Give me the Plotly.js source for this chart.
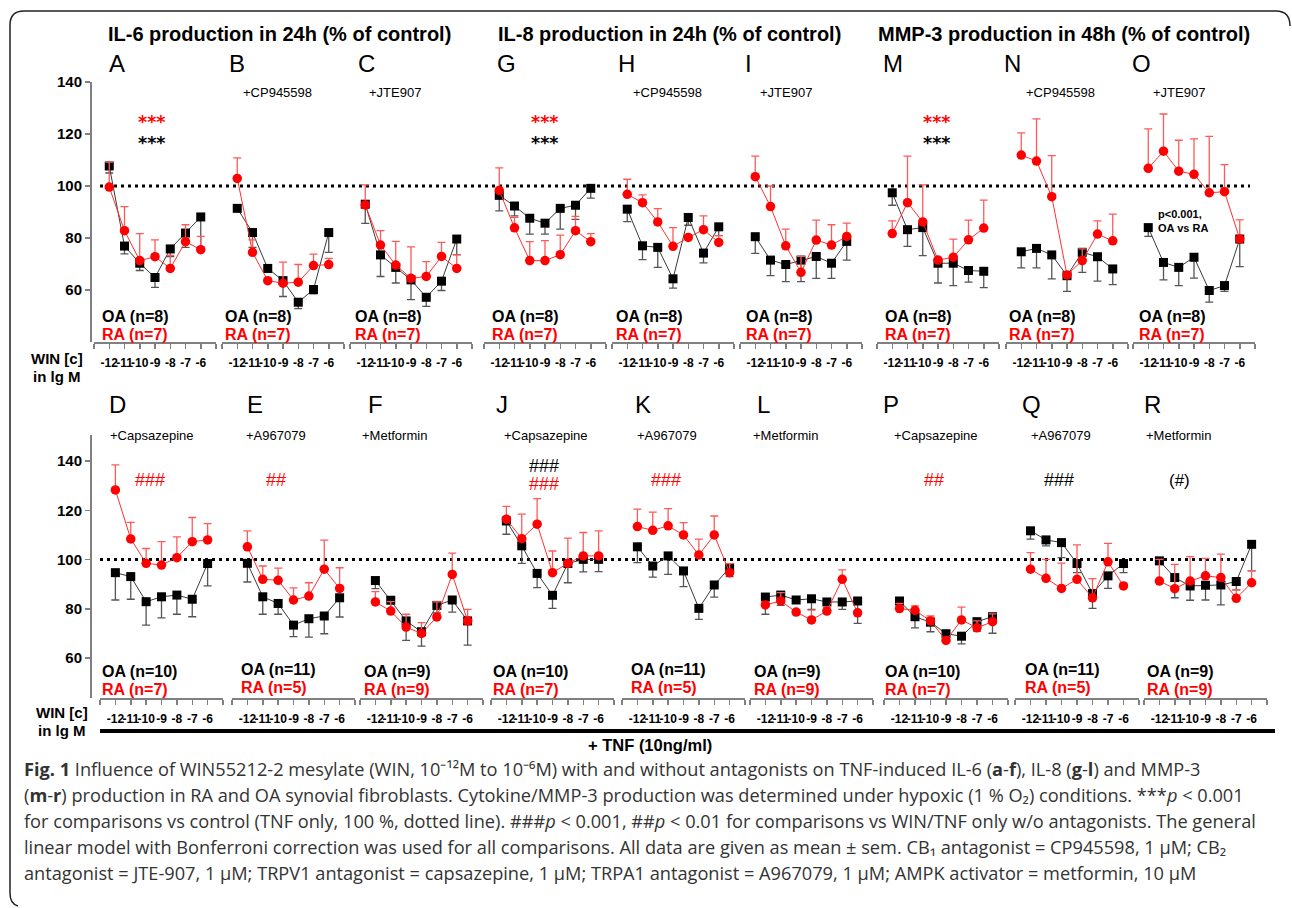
<!DOCTYPE html>
<html><head><meta charset="utf-8">
<script src="https://cdn.plot.ly/plotly-3.0.1.min.js"></script>
<style>html,body{margin:0;padding:0;background:#fff;} #chart{width:1292px;height:908px;}</style>
</head><body><div id="chart"></div>
<script>
// ---------- DATA ----------
const concentrations = [-12, -11, -10, -9, -8, -7, -6];
const tickValues = [-13, -12, -11, -10, -9, -8, -7, -6, -5];
const tickLabels = [' ', '-12', '-11', '-10', '-9', '-8', '-7', '-6', ' '];
const yTickValues = [60, 80, 100, 120, 140];

// IL-6 (A-F)
const oa_A = [107.7, 76.9, 70.3, 64.8, 75.8, 81.9, 88.1];
const oaErr_A = [2.7, 3, 2.8, 3.8, 3, 5.5, 12.6];
const ra_A = [99.6, 82.8, 71.3, 72.8, 68.3, 78.6, 75.5];
const raErr_A = [9.6, 9.3, 10.4, 6.5, 5, 6.5, 5.1];

const oa_B = [91.4, 82.1, 68.3, 63.6, 55.3, 60.2, 82.1];
const oaErr_B = [1, 5.7, 1.5, 6.1, 2.5, 1.7, 7.6];
const ra_B = [102.9, 74.5, 63.6, 62.6, 63, 69.4, 69.8];
const raErr_B = [7.9, 4.8, 0.5, 8.1, 6.8, 4.4, 2.4];

const oa_C = [93, 73.5, 68.7, 63.9, 57.2, 63.4, 79.6];
const oaErr_C = [7.4, 8.3, 6, 7.6, 3.5, 3.6, 6];
const ra_C = [92.7, 77.3, 69.6, 64.5, 65.2, 72.9, 68.3];
const raErr_C = [7.7, 5.5, 9.1, 12.1, 5.7, 5.4, 5.2];

const oa_D = [94.7, 93.1, 82.9, 84.9, 85.6, 83.9, 98.4];
const oaErr_D = [11.1, 9.2, 9.5, 8.6, 7.8, 7.1, 9.1];
const ra_D = [128.3, 108.4, 98.5, 97.8, 100.8, 107.3, 108];
const raErr_D = [10.2, 6.7, 6, 9.5, 8.4, 9.8, 6.6];

const oa_E = [98.5, 84.9, 82.2, 73.4, 76, 77.1, 84.5];
const oaErr_E = [7.6, 7.1, 4.4, 4.7, 7.5, 7.2, 7.8];
const ra_E = [105.2, 92, 91.6, 83.6, 85.2, 96.1, 88.3];
const raErr_E = [6.5, 5.4, 4.9, 4.9, 5.4, 11.8, 8.4];

const oa_F = [91.5, 83.5, 75.1, 70.7, 81.4, 83.6, 75.1];
const oaErr_F = [3.3, 3.7, 7.9, 5.8, 3, 4.9, 9.8];
const ra_F = [82.8, 79.1, 72.6, 70, 76.7, 94, 75.1];
const raErr_F = [4.2, 3.8, 5.2, 4.4, 6.1, 8.6, 4.7];

// IL-8 (G-L)
const oa_G = [96.4, 92.3, 87.6, 85.7, 91.4, 92.6, 99.1];
const oaErr_G = [6, 3.8, 6.1, 4.2, 8, 5.4, 3.8];
const ra_G = [98.3, 83.9, 71.3, 71.3, 73.6, 82.8, 78.6];
const raErr_G = [8.7, 4, 7.3, 7.7, 7.5, 5.5, 3.1];

const oa_H = [91.1, 77, 76.4, 64.3, 87.9, 74.2, 84.3];
const oaErr_H = [4.8, 5.3, 7.7, 3.6, 3, 3.8, 3.4];
const ra_H = [96.8, 93.6, 86.2, 76.8, 80.2, 83.2, 78.3];
const raErr_H = [5.8, 3, 5.1, 7.2, 1, 5.3, 2.6];

const oa_I = [80.5, 71.5, 69.8, 71.5, 72.9, 70.3, 78.7];
const oaErr_I = [6.4, 6, 6.6, 8.3, 8.4, 5.8, 7.2];
const ra_I = [103.6, 92.1, 77, 66.8, 79.2, 77.3, 80.6];
const raErr_I = [7.9, 7.9, 6.4, 6.1, 7.7, 7.8, 5.1];

const oa_J = [115.7, 105.6, 94.4, 85.5, 98.4, 100.1, 100.1];
const oaErr_J = [5.4, 7.1, 5.8, 5.3, 7.8, 5.1, 5];
const ra_J = [116.4, 108.5, 114.4, 94.7, 98.5, 101.5, 101.5];
const raErr_J = [5.2, 10, 10.4, 8.8, 10.2, 9.5, 10.2];

const oa_K = [105.2, 97.4, 101.5, 95.4, 80.2, 89.7, 96.7];
const oaErr_K = [6.4, 4.5, 7.5, 6.4, 4.5, 4.9, 3.6];
const ra_K = [113.4, 111.9, 113.7, 110, 101.9, 110, 94.7];
const raErr_K = [7.1, 7.4, 7, 5, 6.4, 7.7, 3.7];

const oa_L = [84.8, 85.6, 83.6, 84.1, 82.8, 82.8, 83.2];
const oaErr_L = [7, 4.2, 1.1, 4.3, 1.4, 3, 9.1];
const ra_L = [81.6, 83.2, 78.7, 75.5, 79.1, 92, 78.4];
const raErr_L = [1, 3.4, 1, 4, 1.4, 3.8, 1];

// MMP-3 (M-R)
const oa_M = [97.4, 83.2, 84, 70.3, 70.3, 67.5, 67.2];
const oaErr_M = [4.8, 6.4, 10.8, 7.6, 8.6, 4.5, 6.3];
const ra_M = [81.7, 93.6, 86.2, 71.5, 72.6, 79.3, 83.8];
const raErr_M = [4.9, 17.9, 14.2, 1, 7, 7.6, 10.8];

const oa_N = [74.7, 76, 73.5, 65.5, 74.5, 72.8, 68.1];
const oaErr_N = [6.2, 7.5, 9.2, 6, 7.7, 9.4, 6];
const ra_N = [111.9, 109.6, 95.9, 65.8, 71.3, 81.5, 78.9];
const raErr_N = [8.5, 16.2, 15.8, 1, 4.5, 5.1, 10.3];

const oa_O = [84, 70.6, 68.7, 72.6, 59.8, 61.7, 79.6];
const oaErr_O = [3.4, 6.7, 7, 8, 4.5, 2.2, 10.6];
const ra_O = [106.8, 113.4, 105.7, 104.5, 97.4, 97.8, 79.6];
const raErr_O = [15.2, 14.3, 11.9, 13.6, 21.7, 10.4, 7.4];

const oa_P = [83.2, 76.8, 74.6, 69.9, 68.9, 74.8, 76.8];
const oaErr_P = [2.5, 4.5, 3.9, 3, 3.1, 3.8, 6.7];
const ra_P = [80.1, 79.4, 75.1, 67.2, 75.5, 72.3, 74.8];
const raErr_P = [2.1, 1.8, 2, 1.1, 5.2, 2.8, 3.2];

const oa_Q = [111.7, 108, 106.9, 98.4, 86.2, 93.4, 98.4];
const oaErr_Q = [3.4, 2.4, 6.1, 3.7, 6, 5.1, 3.7];
const ra_Q = [96.1, 92.4, 88.3, 92, 84.5, 99.1, 89.3];
const raErr_Q = [6.7, 7.7, 10.3, 14, 7.8, 7.5, 1];

const oa_R = [99.5, 92.7, 89.3, 89.6, 89.7, 91.1, 106.2];
const oaErr_R = [1.4, 8.2, 5.8, 6, 8.1, 3.4, 10.8];
const ra_R = [91.3, 88.2, 91.3, 93.4, 92.7, 84.3, 90.6];
const raErr_R = [8.8, 9.9, 9.9, 7.1, 9.5, 3.4, 4.9];

const topPanels = ['A', 'B', 'C', 'G', 'H', 'I', 'M', 'N', 'O'];
const bottomPanels = ['D', 'E', 'F', 'J', 'K', 'L', 'P', 'Q', 'R'];
const oaNTop = [8, 8, 8, 8, 8, 8, 8, 8, 8];
const raNTop = [7, 7, 7, 7, 7, 7, 7, 7, 7];
const oaNBottom = [10, 11, 9, 10, 11, 9, 10, 11, 9];
const raNBottom = [7, 5, 9, 7, 5, 9, 7, 5, 9];
const groupTitles = ['IL-6 production in 24h (% of control)', 'IL-8 production in 24h (% of control)', 'MMP-3 production in 48h (% of control)'];
const antagonistsTop = ['', '+CP945598', '+JTE907', '', '+CP945598', '+JTE907', '', '+CP945598', '+JTE907'];
const antagonistsBottom = ['+Capsazepine', '+A967079', '+Metformin', '+Capsazepine', '+A967079', '+Metformin', '+Capsazepine', '+A967079', '+Metformin'];

const series = {
  A: [oa_A, oaErr_A, ra_A, raErr_A], B: [oa_B, oaErr_B, ra_B, raErr_B], C: [oa_C, oaErr_C, ra_C, raErr_C],
  D: [oa_D, oaErr_D, ra_D, raErr_D], E: [oa_E, oaErr_E, ra_E, raErr_E], F: [oa_F, oaErr_F, ra_F, raErr_F],
  G: [oa_G, oaErr_G, ra_G, raErr_G], H: [oa_H, oaErr_H, ra_H, raErr_H], I: [oa_I, oaErr_I, ra_I, raErr_I],
  J: [oa_J, oaErr_J, ra_J, raErr_J], K: [oa_K, oaErr_K, ra_K, raErr_K], L: [oa_L, oaErr_L, ra_L, raErr_L],
  M: [oa_M, oaErr_M, ra_M, raErr_M], N: [oa_N, oaErr_N, ra_N, raErr_N], O: [oa_O, oaErr_O, ra_O, raErr_O],
  P: [oa_P, oaErr_P, ra_P, raErr_P], Q: [oa_Q, oaErr_Q, ra_Q, raErr_Q], R: [oa_R, oaErr_R, ra_R, raErr_R]
};

// ---------- LAYOUT GEOMETRY (pixels) ----------
const W = 1292, H = 908;
const FONT = 'Liberation Sans, Arial, sans-serif';
const topDomains = [[94,216],[222,344],[350,472],[484,606],[612,734],[740,862],[877,999],[1006,1128],[1133,1255]];
const botDomains = [[100,223],[232,355],[360,483],[491,614],[622,745],[750,873],[884,1008],[1015,1139],[1144,1267]];
const topLetterX = [117, 237, 366, 506, 626, 748, 893, 1013, 1141];
const botLetterX = [117, 255, 376, 502, 643, 763, 891, 1031, 1152];
const topAntX = [0, 277, 395, 0, 667, 786, 0, 1060, 1179];
const botAntX = [151, 276, 395, 545, 667, 785, 935, 1061, 1178];
const topNX = [100, 223, 353, 490, 614, 744, 883, 1007, 1137];
const botNX = [100, 239, 362, 491, 629, 752, 883, 1023, 1145];
const botNY = [671, 669, 671, 671, 669, 671, 671, 669, 671];

const fx = x => x / W;
const fy = y => 1 - y / H;
const zeros = concentrations.map(() => 0);

const layout = {
  width: W, height: H, autosize: false,
  margin: {l: 0, r: 0, t: 0, b: 0},
  paper_bgcolor: '#fff', plot_bgcolor: 'rgba(0,0,0,0)',
  showlegend: false, hovermode: false,
  font: {family: FONT, color: '#000'},
  annotations: [], shapes: []
};

const yCommon = {
  anchor: 'free', position: fx(90), showline: true, linecolor: '#808080', linewidth: 1.5,
  ticks: 'outside', ticklen: 5, tickcolor: '#808080', tickwidth: 1.5,
  tickvals: yTickValues, showgrid: false, zeroline: false,
  tickfont: {family: FONT, size: 15, color: '#000', weight: 'bold'}
};
layout.yaxis = Object.assign({}, yCommon, {domain: [fy(342), fy(82)], range: [40, 140]});
layout.yaxis2 = Object.assign({}, yCommon, {domain: [fy(698), fy(435)], range: [43.8, 150.6]});

const traces = [];
function addPanel(letter, idx, dom, yref) {
  const ax = idx === 1 ? 'xaxis' : 'xaxis' + idx;
  layout[ax] = {
    domain: [fx(dom[0]), fx(dom[1])], range: [-13, -5], anchor: yref,
    showline: true, linecolor: '#808080', linewidth: 1.5,
    ticks: 'outside', ticklen: 5, tickcolor: '#808080', tickwidth: 1.5,
    tickmode: 'array', tickvals: tickValues, ticktext: tickLabels, tickangle: 0,
    ticklabelstandoff: 4,
    showgrid: false, zeroline: false,
    tickfont: {family: FONT, size: 12, color: '#000', weight: 'bold'}
  };
  const xr = idx === 1 ? 'x' : 'x' + idx;
  const [oa, oaErr, ra, raErr] = series[letter];
  traces.push({
    x: concentrations, y: oa, xaxis: xr, yaxis: yref, type: 'scatter', mode: 'lines+markers',
    line: {color: '#3a3a3a', width: 1},
    marker: {symbol: 'square', size: 9, color: '#000'},
    error_y: {type: 'data', symmetric: false, array: zeros, arrayminus: oaErr, color: '#555', thickness: 1.3, width: 4}
  });
  traces.push({
    x: concentrations, y: ra, xaxis: xr, yaxis: yref, type: 'scatter', mode: 'lines+markers',
    line: {color: '#ff3030', width: 1},
    marker: {symbol: 'circle', size: 9.5, color: '#ff0000'},
    error_y: {type: 'data', symmetric: false, array: raErr, arrayminus: zeros, color: '#ff5a5a', thickness: 1.3, width: 4}
  });
}
topPanels.forEach((p, i) => addPanel(p, i + 1, topDomains[i], 'y'));
bottomPanels.forEach((p, i) => addPanel(p, i + 10, botDomains[i], 'y2'));

function ann(text, x, y, size, opts) {
  opts = opts || {};
  layout.annotations.push({
    text: text, x: fx(x), y: fy(y), xref: 'paper', yref: 'paper', showarrow: false,
    xanchor: opts.xanchor || 'center', yanchor: 'middle', align: opts.align || 'center',
    font: {family: opts.family || FONT, size: size, color: opts.color || '#000', weight: opts.weight || 'normal'}
  });
}

// group titles
[279, 669, 1064].forEach((x, i) => ann(groupTitles[i], x, 34, 20, {weight: 'bold'}));
// letters
topPanels.forEach((p, i) => ann(p, topLetterX[i], 63, 24));
bottomPanels.forEach((p, i) => ann(p, botLetterX[i], 404, 24));
// antagonist labels
antagonistsTop.forEach((t, i) => { if (t) ann(t, topAntX[i], 92, 13); });
antagonistsBottom.forEach((t, i) => ann(t, botAntX[i], 436, 13));
// n labels
topPanels.forEach((p, i) => {
  ann('OA (n=' + oaNTop[i] + ')', topNX[i], 316, 16, {xanchor: 'left', weight: 'bold'});
  ann('RA (n=' + raNTop[i] + ')', topNX[i], 334, 16, {xanchor: 'left', weight: 'bold', color: '#ff0000'});
});
bottomPanels.forEach((p, i) => {
  ann('OA (n=' + oaNBottom[i] + ')', botNX[i], botNY[i], 16, {xanchor: 'left', weight: 'bold'});
  ann('RA (n=' + raNBottom[i] + ')', botNX[i], botNY[i] + 18, 16, {xanchor: 'left', weight: 'bold', color: '#ff0000'});
});
// significance marks
const STAR = 'DejaVu Sans, sans-serif';
[151, 544, 936].forEach(x => {
  ann('***', x, 122, 17.5, {weight: 'bold', color: '#ff0000', family: STAR});
  ann('***', x, 143, 17.5, {weight: 'bold', family: STAR});
});
ann('###', 150, 480, 18, {color: '#ff0000'});
ann('##', 276, 480, 18, {color: '#ff0000'});
ann('###', 544, 466, 18);
ann('###', 544, 484, 18, {color: '#ff0000'});
ann('###', 666, 480, 18, {color: '#ff0000'});
ann('##', 934, 480, 18, {color: '#ff0000'});
ann('###', 1059, 480, 18);
ann('(#)', 1179, 480, 17);
ann('p&lt;0.001,<br>OA vs RA', 1156, 221, 11, {xanchor: 'left', align: 'left', weight: 'bold'});
// WIN labels
ann('WIN [c]', 57, 358, 15, {weight: 'bold'});
ann('in lg M', 57, 376, 15, {weight: 'bold'});
ann('WIN [c]', 62, 712, 15, {weight: 'bold'});
ann('in lg M', 62, 730, 15, {weight: 'bold'});
ann('+ TNF (10ng/ml)', 650, 745, 16.5, {weight: 'bold'});

// caption
const captionLines = [
  '<b>Fig. 1</b> Influence of WIN55212-2 mesylate (WIN, 10⁻¹²M to 10⁻⁶M) with and without antagonists on TNF-induced IL-6 (<b>a</b>-<b>f</b>), IL-8 (<b>g</b>-<b>l</b>) and MMP-3',
  '(<b>m</b>-<b>r</b>) production in RA and OA synovial fibroblasts. Cytokine/MMP-3 production was determined under hypoxic (1 % O₂) conditions. ***<i>p</i> &lt; 0.001',
  'for comparisons vs control (TNF only, 100 %, dotted line). ###<i>p</i> &lt; 0.001, ##<i>p</i> &lt; 0.01 for comparisons vs WIN/TNF only w/o antagonists. The general',
  'linear model with Bonferroni correction was used for all comparisons. All data are given as mean ± sem. CB₁ antagonist = CP945598, 1 μM; CB₂',
  'antagonist = JTE-907, 1 μM; TRPV1 antagonist = capsazepine, 1 μM; TRPA1 antagonist = A967079, 1 μM; AMPK activator = metformin, 10 μM'
];
captionLines.forEach((t, i) => ann(t, 22, 769 + i * 26, 18.2, {xanchor: 'left', align: 'left', family: 'Open Sans, sans-serif', color: '#333'}));

// shapes
layout.shapes.push({type: 'line', xref: 'paper', yref: 'y', x0: fx(100), x1: fx(1250), y0: 100, y1: 100,
  line: {color: '#000', width: 3, dash: '3px,4px'}, layer: 'below'});
layout.shapes.push({type: 'line', xref: 'paper', yref: 'y2', x0: fx(100), x1: fx(1247), y0: 100, y1: 100,
  line: {color: '#000', width: 3, dash: '3px,4px'}, layer: 'below'});
layout.shapes.push({type: 'line', xref: 'paper', yref: 'paper', x0: fx(100), x1: fx(1275), y0: fy(731), y1: fy(731),
  line: {color: '#000', width: 4}});
const P = (x, y) => fx(x) + ',' + fy(y);
layout.shapes.push({type: 'path', xref: 'paper', yref: 'paper',
  path: 'M' + P(1290, 26) + ' Q' + P(1290, 11) + ' ' + P(1276, 11) + ' L' + P(24, 11) + ' Q' + P(10, 11) + ' ' + P(10, 25) +
        ' L' + P(10, 893) + ' Q' + P(10, 904) + ' ' + P(18, 906),
  line: {color: '#222', width: 1.5}});

Plotly.newPlot('chart', traces, layout, {staticPlot: true, displayModeBar: false});
</script>
</body></html>
